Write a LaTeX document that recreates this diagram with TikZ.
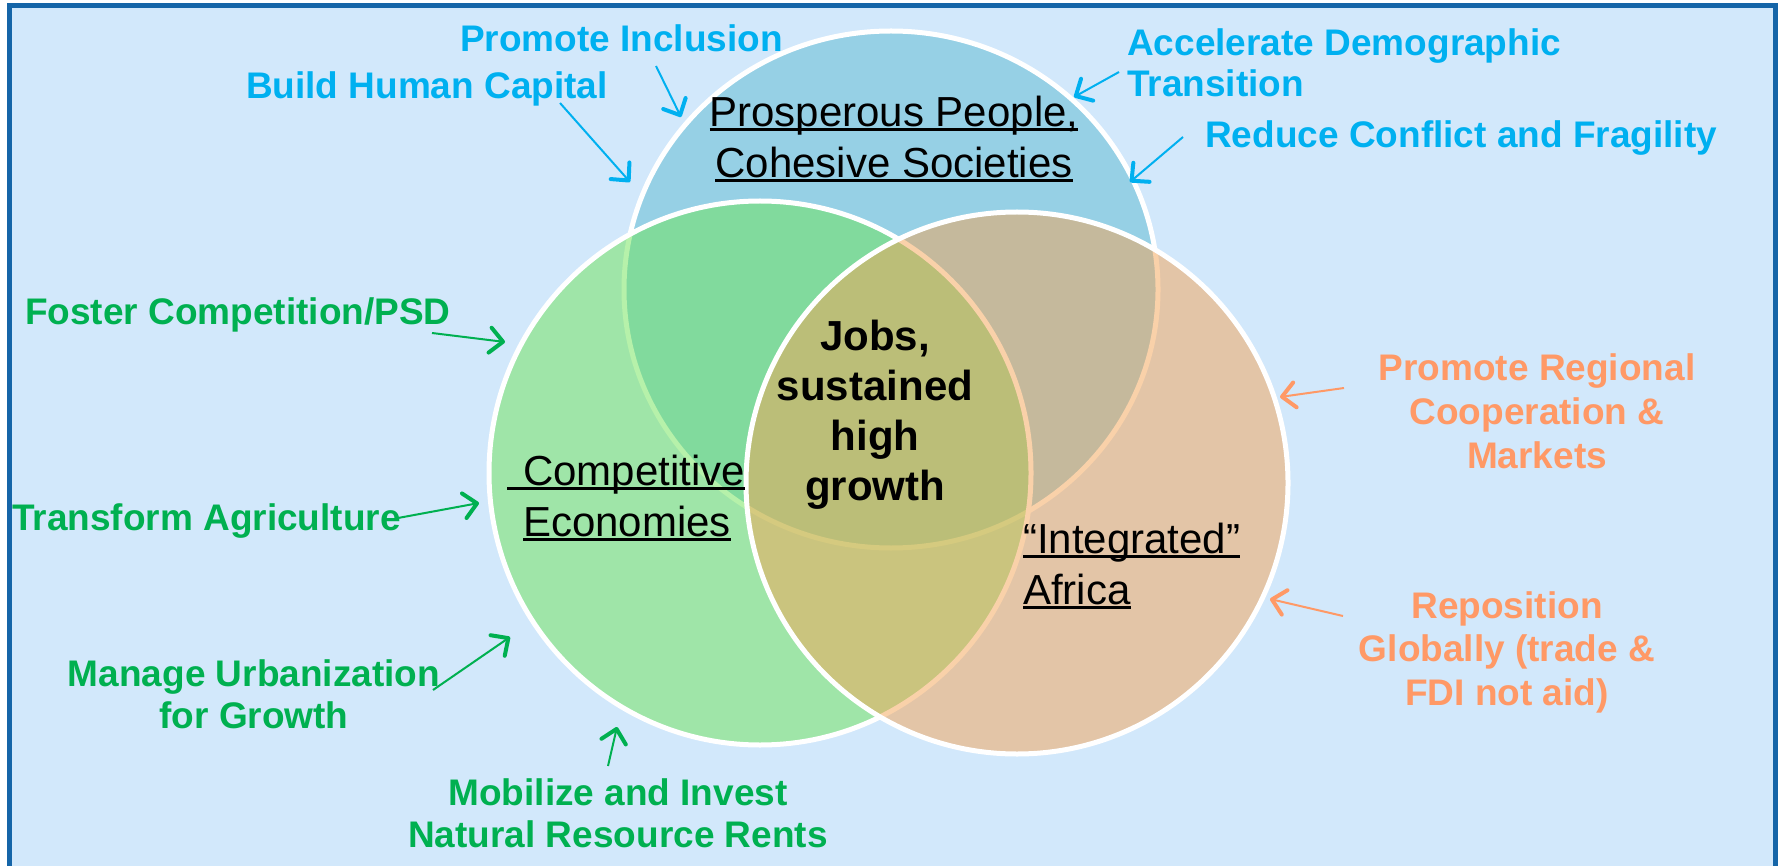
\documentclass[tikz,border=0pt]{standalone}
\usepackage{fontspec}
\setmainfont{Liberation Sans}
\usetikzlibrary{arrows.meta}
\definecolor{bgblue}{RGB}{210,232,251}
\definecolor{frameblue}{RGB}{21,101,168}
\definecolor{cblue}{RGB}{150,208,229}
\definecolor{cgreen}{RGB}{110,228,86}
\definecolor{corange}{RGB}{245,164,85}
\definecolor{tblue}{RGB}{0,176,240}
\definecolor{tgreen}{RGB}{0,176,80}
\definecolor{torange}{RGB}{255,153,102}
\newcommand\ulin[1]{\setbox0\hbox{#1}\rlap{\rule[-4.5pt]{\wd0}{3pt}}\box0}
\tikzset{
  lab/.style={inner sep=0pt, font=\bfseries\fontsize{37}{43}\selectfont},
  labb/.style={lab, text=tblue},
  labg/.style={lab, text=tgreen},
  labo/.style={lab, text=torange},
  setname/.style={inner sep=0pt, text=black, font=\fontsize{42}{51}\selectfont},
  arr/.style={line width=2pt, -{Straight Barb[length=13pt,width=25pt,line width=4pt,round]}},
  venn/.style={draw=white, line width=5pt},
}
\begin{document}
\begin{tikzpicture}[x=1pt,y=-1pt]
\useasboundingbox (0,0) rectangle (1779,866);
\fill[white] (0,0) rectangle (1779,866);
\fill[bgblue] (9.5,5.5) rectangle (1775.5,866);
\draw[frameblue, line width=5pt] (9.5,866) -- (9.5,5.5) -- (1775.5,5.5) -- (1775.5,866);

% circles
\draw[venn, fill=cblue] (891,289.5) ellipse [x radius=267pt, y radius=258.5pt];
\draw[venn, fill=cgreen, fill opacity=0.5] (760,473) ellipse [x radius=271pt, y radius=272pt];
\draw[venn, fill=corange, fill opacity=0.5] (1017,483) ellipse [x radius=271pt, y radius=271pt];

% set names (multi-line nodes: base = last line's baseline)
\node[setname, anchor=base, align=center] (ppl) at (894,178) {\ulin{Prosperous People,}\\\ulin{Cohesive Societies}};
\node[setname, anchor=base west, align=left, font=\fontsize{42}{51}\selectfont] (ce) at (523,536) {\llap{\rule[-4.5pt]{16pt}{3pt}}\ulin{Competitive}\\\ulin{Economies}};
\node[setname, anchor=base west, align=left] (ia) at (1023,604) {\ulin{“Integrated”}\\\ulin{Africa}};
\node[setname, anchor=base, align=center, font=\bfseries\fontsize{42}{50}\selectfont] (jobs) at (875,500) {Jobs,\\sustained\\high\\growth};

% blue labels
\node[labb, anchor=base west] (pi) at (460,52) {Promote Inclusion};
\node[labb, anchor=base east] (bhc) at (608,99) {Build Human Capital};
\node[labb, anchor=base west, align=left, font=\bfseries\fontsize{37}{41}\selectfont] (adt) at (1127,97) {Accelerate Demographic\\Transition};
\node[labb, anchor=base west] (rcf) at (1205,148) {Reduce Conflict and Fragility};

% green labels
\node[labg, anchor=base west] (fcp) at (25,325) {Foster Competition/PSD};
\node[labg, anchor=base west] (ta) at (12,530) {Transform Agriculture};
\node[labg, anchor=base, align=center, font=\bfseries\fontsize{37}{42}\selectfont] (mu) at (254,728) {Manage Urbanization\\for Growth};
\node[labg, anchor=base, align=center, font=\bfseries\fontsize{37}{42}\selectfont] (mi) at (618,847) {Mobilize and Invest\\Natural Resource Rents};

% orange labels
\node[labo, anchor=base, align=center, font=\bfseries\fontsize{37}{44}\selectfont] (prc) at (1537,468) {Promote Regional\\Cooperation \&\\Markets};
\node[labo, anchor=base, align=center, font=\bfseries\fontsize{37}{43.5}\selectfont] (rg) at (1507,705) {Reposition\\Globally (trade \&\\FDI not aid)};

% arrow end points
\coordinate (piA) at (656,66);   \coordinate (piB) at (681,117);
\coordinate (bhcA) at (560,103); \coordinate (bhcB) at (630,182);
\coordinate (adtA) at (1119,72); \coordinate (adtB) at (1074,97);
\coordinate (rcfA) at (1183,137);\coordinate (rcfB) at (1130,182);
\coordinate (fcpA) at (432,333); \coordinate (fcpB) at (505,342);
\coordinate (taA) at (398,518);  \coordinate (taB) at (479,503);
\coordinate (muA) at (433,690);  \coordinate (muB) at (510,637);
\coordinate (miA) at (608,766);  \coordinate (miB) at (617,727);
\coordinate (prcA) at (1344,388);\coordinate (prcB) at (1280,397);
\coordinate (rgA) at (1343,616); \coordinate (rgB) at (1270,599);

\draw[arr, tblue] (piA) -- (piB);
\draw[arr, tblue] (bhcA) -- (bhcB);
\draw[arr, tblue] (adtA) -- (adtB);
\draw[arr, tblue] (rcfA) -- (rcfB);
\draw[arr, tgreen] (fcpA) -- (fcpB);
\draw[arr, tgreen] (taA) -- (taB);
\draw[arr, tgreen] (muA) -- (muB);
\draw[arr, tgreen] (miA) -- (miB);
\draw[arr, torange] (prcA) -- (prcB);
\draw[arr, torange] (rgA) -- (rgB);
\end{tikzpicture}
\end{document}
